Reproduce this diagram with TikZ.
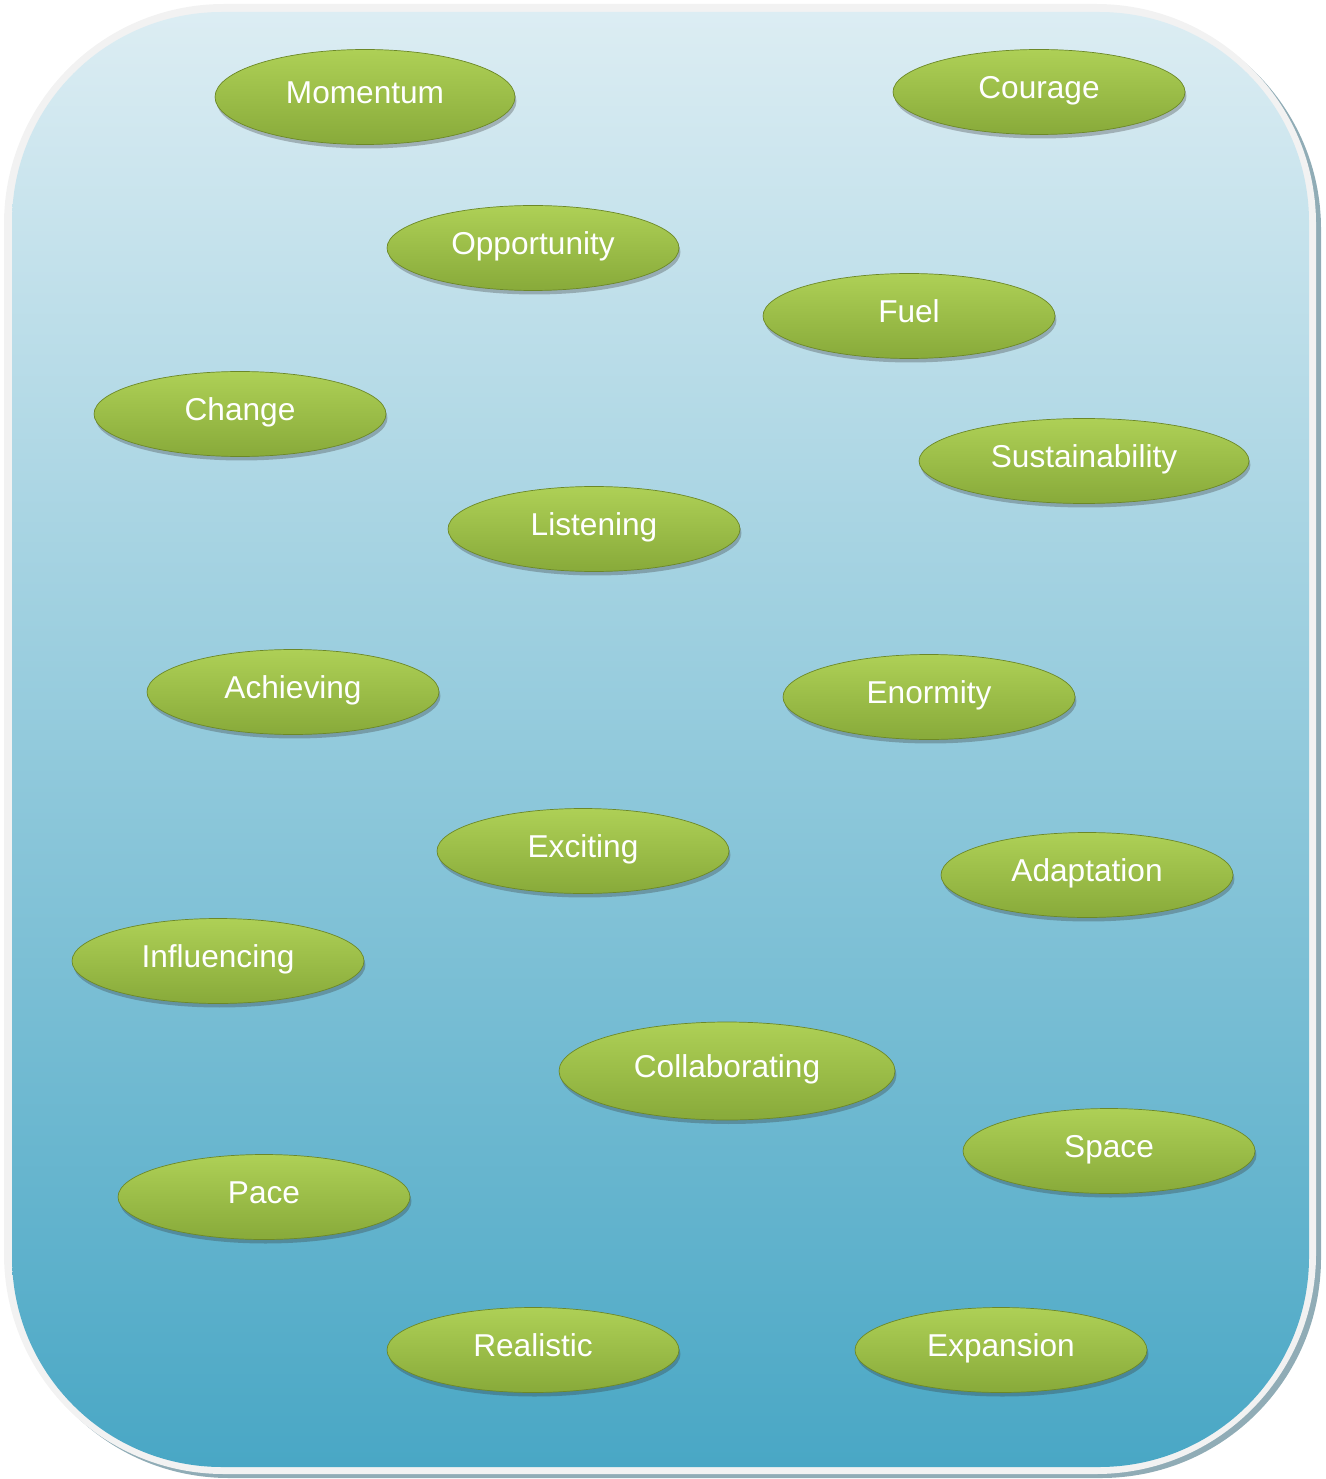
\documentclass[tikz,border=0pt]{standalone}
\usepackage{fontspec}
\setmainfont{Liberation Sans}
\usepackage{tikz}
\usetikzlibrary{shapes.geometric,shadows}
\usepackage{xcolor}
\definecolor{sky-top}{RGB}{220,237,243}
\definecolor{sky-bottom}{RGB}{73,167,197}
\definecolor{frame-grey}{RGB}{242,242,242}
\definecolor{frame-shadow}{RGB}{144,172,182}
\definecolor{leaf-top}{RGB}{174,208,86}
\definecolor{leaf-mid}{RGB}{158,194,74}
\definecolor{leaf-bottom}{RGB}{136,170,58}
\definecolor{leaf-edge}{RGB}{108,136,40}
\tikzstyle{pill}=[ellipse, draw=leaf-edge, thin, top color=leaf-top, middle color=leaf-mid, bottom color=leaf-bottom,
	minimum width=5.84cm, minimum height=1.7cm, inner sep=0pt, text=white, font=\fontsize{18}{20}\selectfont,
	text height=0.45cm, text depth=0.2cm,
	drop shadow={shadow xshift=0.03cm, shadow yshift=-0.08cm, opacity=0.3, fill=black!80}]
\tikzstyle{bigpill}=[pill, minimum width=6.72cm, minimum height=1.96cm]

\begin{document}
\begin{tikzpicture}[x=0.02cm,y=-0.02cm]
	\useasboundingbox (0,0) rectangle (1325,1479);
	% frame and sky
	\fill[frame-shadow, rounded corners=4.4cm] (9,9) rectangle (1321,1478);
	\fill[frame-grey, rounded corners=4.4cm] (4,4) rectangle (1316,1474);
	\shade[top color=sky-top, bottom color=sky-bottom, rounded corners=4.2cm] (12,12) rectangle (1309,1467);
	% words
	\node[pill, minimum width=6cm, minimum height=1.9cm] (momentum) at (365,97) {Momentum};
	\node[pill] (courage) at (1039,92) {Courage};
	\node[pill] (opportunity) at (533,248) {Opportunity};
	\node[pill] (fuel) at (909,316) {Fuel};
	\node[pill] (change) at (240,414) {Change};
	\node[pill, minimum width=6.6cm] (sustainability) at (1084,461) {Sustainability};
	\node[pill] (listening) at (594,529) {Listening};
	\node[pill] (achieving) at (293,692) {Achieving};
	\node[pill] (enormity) at (929,697) {Enormity};
	\node[pill] (exciting) at (583,851) {Exciting};
	\node[pill] (adaptation) at (1087,875) {Adaptation};
	\node[pill] (influencing) at (218,961) {Influencing};
	\node[bigpill] (collaborating) at (727,1071) {Collaborating};
	\node[pill] (space) at (1109,1151) {Space};
	\node[pill] (pace) at (264,1197) {Pace};
	\node[pill] (realistic) at (533,1350) {Realistic};
	\node[pill] (expansion) at (1001,1350) {Expansion};
\end{tikzpicture}
\end{document}
